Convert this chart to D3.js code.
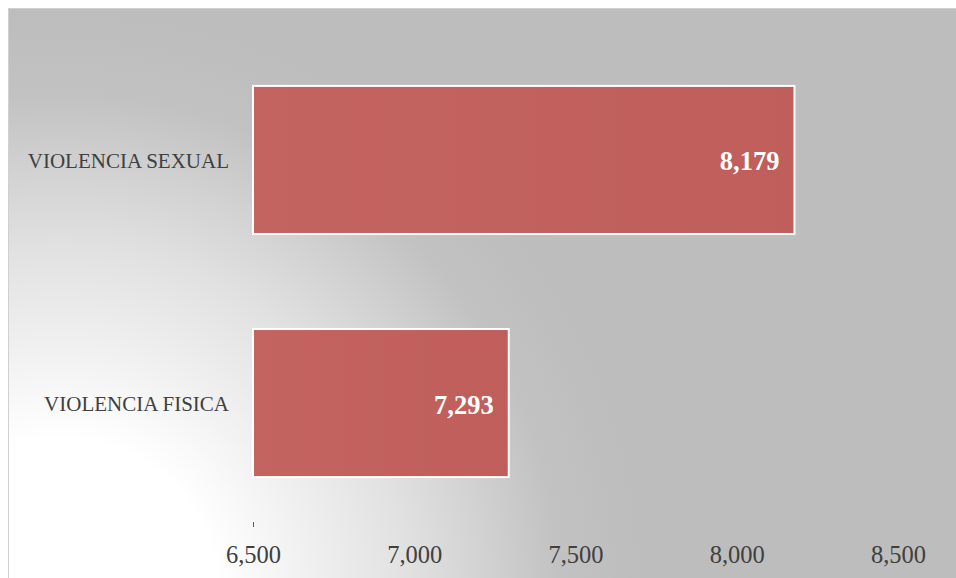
<!DOCTYPE html>
<html>
<head>
<meta charset="utf-8">
<script src="https://cdn.jsdelivr.net/npm/d3@7"></script>
<style>
  html, body { margin: 0; padding: 0; background: #ffffff; }
  svg { display: block; }
</style>
</head>
<body>
<svg id="chart" width="956" height="578"></svg>
<script>
const categories = ["VIOLENCIA SEXUAL", "VIOLENCIA FISICA"];
const values = [8179, 7293];
const xDomain = [6500, 8500];
const tickValues = [6500, 7000, 7500, 8000, 8500];

const svg = d3.select("#chart");
const W = 956, H = 578;
const defs = svg.append("defs");

// background radial gradient (white at bottom-left to gray)
const bg = defs.append("radialGradient")
  .attr("id", "bgGrad")
  .attr("gradientUnits", "userSpaceOnUse")
  .attr("cx", 60).attr("cy", 595).attr("r", 580);
[[0, "#ffffff"], [0.27, "#ffffff"], [0.42, "#f1f1f1"], [0.6, "#e1e1e1"], [0.74, "#d1d1d1"], [0.86, "#c2c2c2"], [1, "#bdbdbd"]]
  .forEach(([o, c]) => bg.append("stop").attr("offset", o).attr("stop-color", c));

const barGrad = defs.append("linearGradient")
  .attr("id", "barGrad").attr("x1", 0).attr("x2", 1).attr("y1", 0).attr("y2", 0);
barGrad.append("stop").attr("offset", 0).attr("stop-color", "#c46461");
barGrad.append("stop").attr("offset", 1).attr("stop-color", "#bf5e5b");

svg.append("rect")
  .attr("x", 8.5).attr("y", 8.5)
  .attr("width", W).attr("height", H)
  .attr("fill", "url(#bgGrad)")
  .attr("stroke", "#d0d0d0").attr("stroke-width", 1);

const x = d3.scaleLinear().domain(xDomain).range([253, 898]);
const y = d3.scaleBand().domain(categories).range([38.5, 524.5])
  .paddingInner(0.391).paddingOuter(0.195);

// bars
svg.append("g").selectAll("rect")
  .data(categories)
  .join("rect")
  .attr("x", x(xDomain[0]))
  .attr("y", d => y(d))
  .attr("width", (d, i) => x(values[i]) - x(xDomain[0]))
  .attr("height", y.bandwidth())
  .attr("fill", "url(#barGrad)")
  .attr("stroke", "#ffffff").attr("stroke-width", 2);

// value labels
svg.append("g").selectAll("text")
  .data(categories)
  .join("text")
  .attr("x", (d, i) => x(values[i]) - 15)
  .attr("y", d => y(d) + y.bandwidth() / 2 + 10.5)
  .attr("text-anchor", "end")
  .attr("font-family", "'Liberation Serif', serif")
  .attr("font-weight", "bold")
  .attr("font-size", 26.5)
  .attr("fill", "#ffffff")
  .text((d, i) => d3.format(",")(values[i]));

// category labels
svg.append("g").selectAll("text")
  .data(categories)
  .join("text")
  .attr("x", 229)
  .attr("y", d => y(d) + y.bandwidth() / 2 + 8)
  .attr("text-anchor", "end")
  .attr("font-family", "'Liberation Serif', serif")
  .attr("font-size", 21)
  .attr("fill", "#404040")
  .text(d => d);

// x axis
const axis = svg.append("g")
  .attr("transform", "translate(0,524)")
  .call(d3.axisBottom(x).tickValues(tickValues).tickFormat(d3.format(",")).tickSize(0).tickPadding(22));
axis.select(".domain").remove();
axis.selectAll("text")
  .attr("font-family", "'Liberation Serif', serif")
  .attr("font-size", 24.5)
  .attr("fill", "#404040");

// small stub of the category axis at its base
svg.append("line")
  .attr("x1", x(xDomain[0]) + 0.5).attr("x2", x(xDomain[0]) + 0.5)
  .attr("y1", 522).attr("y2", 527)
  .attr("stroke", "#595959").attr("stroke-width", 1);
</script>
</body>
</html>
